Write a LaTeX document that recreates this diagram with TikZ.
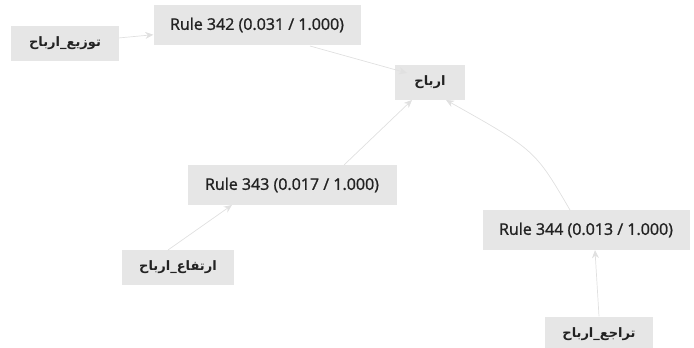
\documentclass[tikz,border=0pt]{standalone}
\usepackage{fontspec}
\setmainfont{Open Sans}
\newfontfamily\rulefont[FakeBold=1.2]{Open Sans}
\newfontfamily\arabicfont[Script=Arabic]{DejaVu Sans}
\TeXXeTstate=1
\usetikzlibrary{arrows.meta}
\usepackage{xcolor}
\definecolor{boxgray}{HTML}{E6E6E6}
\definecolor{edgegray}{HTML}{E0E0E0}
\definecolor{textgray}{HTML}{222222}

\begin{document}
\begin{tikzpicture}[x=1pt, y=-1pt, >={Stealth[length=8pt, width=7pt]},
  item/.style={fill=boxgray, draw=none, inner xsep=14pt, minimum height=35pt, text=textgray, font=\arabicfont\bfseries\fontsize{13}{15}\selectfont},
  rule/.style={fill=boxgray, draw=none, inner xsep=16pt, minimum height=40pt, text=textgray, font=\rulefont\fontsize{16}{19}\selectfont},
  edge/.style={->, line width=0.7pt, draw=edgegray}
]
\useasboundingbox (0,0) rectangle (694,348);
\node[item, minimum width=108pt] (n0) at (65,43) {\beginR توزيع\_ارباح\endR};
\node[rule, minimum width=207pt] (n1) at (257,25) {Rule 342 (0.031 / 1.000)};
\node[item, minimum width=70pt] (n2) at (430,82) {\beginR ارباح\endR};
\node[rule, minimum width=209pt] (n3) at (292,185) {Rule 343 (0.017 / 1.000)};
\node[item, minimum width=112pt] (n4) at (178,267) {\beginR ارتفاع\_ارباح\endR};
\node[rule, minimum width=207pt] (n5) at (586,230) {Rule 344 (0.013 / 1.000)};
\node[item, minimum width=108pt] (n6) at (599,334) {\beginR تراجع\_ارباح\endR};
% free ends of the connectors
\coordinate (p1) at (310,46);
\coordinate (q1) at (407,73);
\coordinate (p3) at (344,165);
\coordinate (q3) at (412,100);
\coordinate (p4) at (168,250);
\coordinate (q4) at (232,205);
\coordinate (p5) at (570,210);
\coordinate (q5) at (446,100);
\draw[edge] (n0) -- (n1);
\draw[edge] (p1) -- (q1);
\draw[edge] (p3) -- (q3);
\draw[edge] (p4) -- (q4);
\draw[edge] (p5) .. controls (535,150) .. (q5);
\draw[edge] (n6.north) .. controls (597,285) .. (n5.south -| 595,0);
\end{tikzpicture}
\end{document}
